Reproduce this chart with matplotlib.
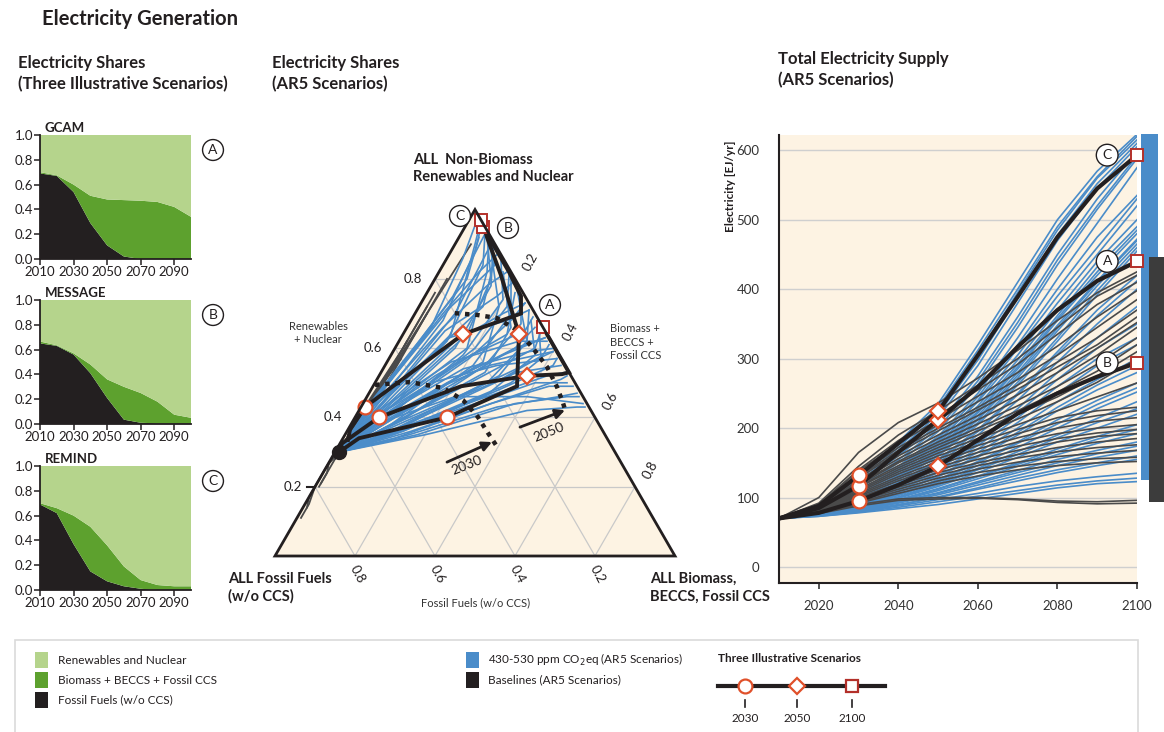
import numpy as np
import matplotlib
matplotlib.use('Agg')
import matplotlib.pyplot as plt
from matplotlib.transforms import Affine2D
from matplotlib.patches import Polygon, Rectangle
from matplotlib.lines import Line2D

plt.rcParams['font.family'] = ['Lato', 'DejaVu Sans']

# ---------------- data ----------------
years = [2010, 2020, 2030, 2040, 2050, 2060, 2070, 2080, 2090, 2100]

# illustrative scenarios: electricity shares
gcam_fossil = [0.69, 0.67, 0.54, 0.29, 0.11, 0.02, 0.00, 0.00, 0.00, 0.00]
gcam_bio = [0.01, 0.005, 0.06, 0.22, 0.37, 0.455, 0.47, 0.46, 0.42, 0.34]
message_fossil = [0.65, 0.63, 0.56, 0.41, 0.21, 0.035, 0.01, 0.005, 0.005, 0.005]
message_bio = [0.015, 0.005, 0.01, 0.07, 0.15, 0.265, 0.24, 0.175, 0.07, 0.045]
remind_fossil = [0.69, 0.62, 0.37, 0.15, 0.07, 0.03, 0.01, 0.00, 0.00, 0.00]
remind_bio = [0.01, 0.04, 0.23, 0.36, 0.29, 0.16, 0.07, 0.04, 0.03, 0.03]
model_names = ['GCAM', 'MESSAGE', 'REMIND']
model_letters = ['A', 'B', 'C']

# illustrative scenarios: total electricity supply [EJ/yr]
supply_A = [70, 85, 117, 165, 212, 259, 317, 370, 412, 440]
supply_B = [70, 78, 95, 118, 145, 183, 221, 250, 274, 294]
supply_C = [70, 88, 132, 178, 224, 305, 389, 475, 545, 593]

# AR5 430-530 ppm scenarios: total electricity supply
blue_supply = [
    [70, 90, 130, 180, 235, 320, 410, 500, 570, 623],
    [70, 89, 128, 176, 230, 312, 400, 490, 562, 620],
    [70, 88, 125, 172, 225, 305, 395, 485, 560, 615],
    [70, 87, 122, 168, 220, 298, 388, 478, 552, 610],
    [70, 86, 120, 165, 215, 290, 380, 470, 545, 605],
    [70, 85, 118, 160, 205, 275, 360, 450, 530, 598],
    [70, 84, 114, 154, 200, 268, 352, 442, 520, 592],
    [70, 84, 112, 150, 195, 262, 345, 435, 515, 588],
    [70, 83, 108, 145, 188, 250, 330, 415, 495, 575],
    [70, 82, 107, 143, 185, 245, 320, 400, 475, 535],
    [70, 82, 105, 140, 180, 240, 315, 390, 460, 530],
    [70, 82, 106, 142, 182, 238, 305, 380, 450, 520],
    [70, 81, 104, 138, 178, 232, 298, 370, 440, 500],
    [70, 81, 103, 136, 175, 228, 292, 362, 432, 490],
    [70, 80, 101, 133, 172, 224, 288, 358, 425, 485],
    [70, 80, 100, 132, 170, 222, 285, 355, 420, 480],
    [70, 80, 100, 130, 168, 218, 280, 348, 412, 472],
    [70, 80, 99, 129, 166, 214, 276, 344, 410, 470],
    [70, 80, 98, 128, 165, 212, 272, 340, 405, 465],
    [70, 79, 97, 126, 162, 208, 266, 330, 398, 460],
    [70, 79, 96, 125, 160, 205, 262, 325, 392, 455],
    [70, 79, 95, 122, 155, 198, 250, 310, 370, 420],
    [70, 78, 95, 121, 153, 195, 248, 306, 362, 412],
    [70, 78, 94, 120, 150, 190, 240, 295, 350, 400],
    [70, 78, 93, 117, 146, 182, 228, 280, 330, 375],
    [70, 78, 93, 116, 144, 178, 222, 270, 315, 350],
    [70, 78, 92, 114, 142, 175, 215, 260, 300, 330],
    [70, 77, 91, 112, 138, 170, 208, 250, 290, 320],
    [70, 77, 90, 110, 136, 165, 200, 238, 270, 300],
    [70, 77, 89, 108, 132, 160, 194, 230, 262, 290],
    [70, 77, 89, 107, 130, 158, 190, 225, 255, 280],
    [70, 77, 88, 105, 126, 152, 180, 212, 240, 265],
    [70, 76, 87, 104, 124, 150, 178, 206, 234, 258],
    [70, 76, 87, 103, 122, 146, 172, 200, 228, 252],
    [70, 76, 86, 101, 120, 142, 166, 190, 214, 238],
    [70, 76, 85, 100, 118, 140, 162, 186, 208, 228],
    [70, 76, 85, 99, 116, 136, 158, 180, 200, 220],
    [70, 75, 84, 97, 113, 131, 150, 170, 188, 205],
    [70, 75, 83, 96, 112, 130, 148, 166, 184, 198],
    [70, 75, 83, 95, 110, 127, 145, 162, 178, 192],
    [70, 75, 82, 94, 107, 123, 139, 155, 168, 180],
    [70, 74, 81, 93, 106, 121, 136, 150, 163, 174],
    [70, 74, 81, 92, 104, 118, 132, 146, 158, 168],
    [70, 74, 80, 90, 100, 112, 124, 136, 146, 155],
    [70, 74, 79, 89, 101, 114, 128, 140, 150, 160],
    [70, 74, 80, 88, 97, 106, 116, 124, 130, 135],
    [70, 73, 79, 86, 94, 102, 110, 118, 124, 128],
    [70, 73, 78, 84, 90, 98, 106, 114, 120, 123],
]

# AR5 baseline scenarios: total electricity supply
base_supply = [
    [70, 100, 165, 208, 236, 272, 312, 355, 395, 425],
    [70, 92, 145, 190, 225, 262, 300, 345, 390, 420],
    [70, 90, 140, 182, 218, 255, 292, 335, 378, 410],
    [70, 90, 138, 178, 212, 246, 280, 318, 360, 398],
    [70, 88, 132, 172, 205, 238, 270, 305, 345, 385],
    [70, 88, 130, 168, 200, 230, 262, 295, 330, 370],
    [70, 87, 128, 165, 196, 226, 256, 288, 320, 360],
    [70, 86, 125, 160, 190, 218, 248, 280, 315, 352],
    [70, 86, 122, 156, 185, 212, 240, 270, 305, 345],
    [70, 85, 120, 152, 180, 206, 232, 260, 292, 330],
    [70, 85, 118, 150, 176, 200, 225, 252, 282, 320],
    [70, 84, 116, 146, 172, 196, 220, 245, 275, 310],
    [70, 84, 115, 143, 168, 190, 213, 238, 266, 300],
    [70, 83, 112, 140, 164, 185, 205, 225, 245, 265],
    [70, 83, 110, 137, 160, 180, 198, 215, 225, 230],
    [70, 82, 108, 134, 156, 175, 192, 208, 218, 225],
    [70, 82, 106, 130, 152, 170, 186, 200, 210, 215],
    [70, 81, 104, 127, 148, 165, 180, 192, 200, 205],
    [70, 81, 102, 124, 144, 160, 174, 185, 193, 198],
    [70, 80, 100, 120, 140, 155, 168, 180, 188, 192],
    [70, 80, 98, 118, 136, 150, 162, 172, 180, 185],
    [70, 80, 96, 115, 132, 146, 157, 166, 172, 176],
    [70, 79, 95, 112, 128, 141, 151, 159, 164, 168],
    [70, 79, 93, 109, 124, 136, 145, 152, 156, 158],
    [70, 78, 92, 106, 120, 131, 140, 146, 150, 152],
    [70, 78, 90, 98, 100, 100, 98, 95, 94, 96],
    [70, 77, 88, 96, 98, 99, 97, 93, 91, 92],
]
range2100_blue = [125, 623]
range2100_base = [94, 446]

# ternary paths (biomass share, renewables share) at these years
tern_years = [2010, 2030, 2050, 2070, 2100]
tern_blue_bio = [
    [0.01, 0.04, 0.08, 0.06, 0.04], [0.01, 0.05, 0.12, 0.10, 0.06],
    [0.01, 0.06, 0.15, 0.15, 0.10], [0.01, 0.08, 0.18, 0.20, 0.14],
    [0.01, 0.10, 0.22, 0.24, 0.19], [0.01, 0.12, 0.25, 0.28, 0.24],
    [0.01, 0.07, 0.20, 0.30, 0.30], [0.01, 0.09, 0.26, 0.35, 0.34],
    [0.01, 0.11, 0.30, 0.38, 0.38], [0.01, 0.14, 0.32, 0.42, 0.42],
    [0.01, 0.16, 0.36, 0.46, 0.47], [0.01, 0.18, 0.38, 0.50, 0.53],
    [0.01, 0.20, 0.42, 0.54, 0.56], [0.01, 0.05, 0.10, 0.18, 0.20],
    [0.01, 0.06, 0.14, 0.22, 0.26], [0.01, 0.03, 0.07, 0.10, 0.12],
    [0.01, 0.13, 0.28, 0.32, 0.28], [0.01, 0.15, 0.30, 0.36, 0.30],
    [0.01, 0.10, 0.20, 0.28, 0.36], [0.01, 0.08, 0.16, 0.26, 0.40],
    [0.01, 0.04, 0.12, 0.05, 0.03], [0.01, 0.06, 0.18, 0.12, 0.08],
    [0.01, 0.12, 0.24, 0.40, 0.48], [0.01, 0.09, 0.22, 0.34, 0.44],
    [0.01, 0.03, 0.09, 0.14, 0.17], [0.01, 0.02, 0.05, 0.08, 0.05],
    [0.01, 0.03, 0.10, 0.16, 0.12], [0.01, 0.05, 0.14, 0.26, 0.22],
    [0.01, 0.07, 0.18, 0.30, 0.32], [0.01, 0.09, 0.24, 0.36, 0.40],
    [0.01, 0.11, 0.28, 0.42, 0.46], [0.01, 0.04, 0.16, 0.30, 0.37],
    [0.01, 0.06, 0.20, 0.34, 0.40], [0.01, 0.08, 0.24, 0.20, 0.10],
    [0.01, 0.10, 0.26, 0.26, 0.16], [0.01, 0.12, 0.30, 0.32, 0.22],
    [0.01, 0.14, 0.34, 0.38, 0.33], [0.01, 0.05, 0.12, 0.24, 0.28],
    [0.01, 0.03, 0.08, 0.13, 0.08], [0.01, 0.02, 0.06, 0.04, 0.02],
    [0.01, 0.07, 0.16, 0.14, 0.07], [0.01, 0.09, 0.20, 0.22, 0.18],
    [0.01, 0.13, 0.32, 0.44, 0.50], [0.01, 0.16, 0.34, 0.48, 0.52],
    [0.01, 0.06, 0.22, 0.40, 0.55], [0.01, 0.04, 0.14, 0.28, 0.42],
    [0.01, 0.08, 0.20, 0.25, 0.26], [0.01, 0.10, 0.24, 0.30, 0.36],
    [0.01, 0.02, 0.04, 0.07, 0.06], [0.01, 0.03, 0.06, 0.10, 0.09],
]
tern_blue_ren = [
    [0.30, 0.45, 0.68, 0.88, 0.95], [0.30, 0.42, 0.62, 0.84, 0.93],
    [0.30, 0.40, 0.60, 0.78, 0.89], [0.30, 0.40, 0.58, 0.74, 0.85],
    [0.30, 0.38, 0.55, 0.70, 0.80], [0.30, 0.39, 0.55, 0.67, 0.75],
    [0.30, 0.41, 0.58, 0.65, 0.69], [0.30, 0.37, 0.52, 0.60, 0.65],
    [0.30, 0.36, 0.50, 0.58, 0.61], [0.30, 0.36, 0.48, 0.55, 0.57],
    [0.30, 0.36, 0.46, 0.51, 0.52], [0.30, 0.35, 0.44, 0.46, 0.46],
    [0.30, 0.35, 0.42, 0.43, 0.43], [0.30, 0.44, 0.65, 0.75, 0.79],
    [0.30, 0.43, 0.62, 0.70, 0.73], [0.30, 0.47, 0.70, 0.82, 0.87],
    [0.30, 0.37, 0.50, 0.62, 0.71], [0.30, 0.37, 0.47, 0.58, 0.68],
    [0.30, 0.40, 0.52, 0.58, 0.63], [0.30, 0.38, 0.48, 0.55, 0.59],
    [0.30, 0.42, 0.64, 0.90, 0.97], [0.30, 0.41, 0.60, 0.82, 0.91],
    [0.30, 0.35, 0.42, 0.50, 0.50], [0.30, 0.36, 0.45, 0.53, 0.55],
    [0.30, 0.44, 0.66, 0.78, 0.82], [0.30, 0.46, 0.62, 0.80, 0.92],
    [0.30, 0.43, 0.58, 0.72, 0.86], [0.30, 0.40, 0.52, 0.64, 0.76],
    [0.30, 0.39, 0.50, 0.60, 0.66], [0.30, 0.37, 0.47, 0.56, 0.59],
    [0.30, 0.36, 0.45, 0.52, 0.53], [0.30, 0.41, 0.56, 0.62, 0.62],
    [0.30, 0.40, 0.54, 0.59, 0.60], [0.30, 0.39, 0.56, 0.72, 0.88],
    [0.30, 0.38, 0.53, 0.66, 0.82], [0.30, 0.37, 0.52, 0.62, 0.77],
    [0.30, 0.37, 0.50, 0.57, 0.66], [0.30, 0.45, 0.63, 0.68, 0.71],
    [0.30, 0.48, 0.72, 0.84, 0.92], [0.30, 0.44, 0.66, 0.86, 0.97],
    [0.30, 0.44, 0.64, 0.80, 0.92], [0.30, 0.42, 0.60, 0.72, 0.81],
    [0.30, 0.34, 0.44, 0.49, 0.49], [0.30, 0.35, 0.43, 0.46, 0.47],
    [0.30, 0.38, 0.46, 0.46, 0.44], [0.30, 0.39, 0.50, 0.55, 0.57],
    [0.30, 0.41, 0.57, 0.68, 0.73], [0.30, 0.40, 0.54, 0.60, 0.63],
    [0.30, 0.40, 0.55, 0.75, 0.93], [0.30, 0.38, 0.50, 0.70, 0.90],
]
tern_base_bio = [
    [0.01, 0.01, 0.02, 0.03, 0.03], [0.01, 0.02, 0.02, 0.03, 0.04],
    [0.01, 0.01, 0.01, 0.02, 0.02], [0.01, 0.01, 0.02, 0.02, 0.03],
    [0.01, 0.01, 0.01, 0.01, 0.02], [0.01, 0.01, 0.01, 0.01, 0.01],
    [0.01, 0.00, 0.00, 0.01, 0.01], [0.01, 0.01, 0.01, 0.02, 0.03],
    [0.01, 0.02, 0.03, 0.04, 0.05], [0.01, 0.01, 0.02, 0.02, 0.02],
    [0.01, 0.00, 0.00, 0.00, 0.01], [0.01, 0.01, 0.01, 0.02, 0.02],
    [0.01, 0.01, 0.01, 0.02, 0.02], [0.01, 0.01, 0.02, 0.02, 0.02],
    [0.01, 0.01, 0.01, 0.01, 0.01], [0.01, 0.00, 0.01, 0.01, 0.01],
    [0.01, 0.01, 0.01, 0.01, 0.02], [0.01, 0.02, 0.03, 0.03, 0.03],
]
tern_base_ren = [
    [0.30, 0.35, 0.45, 0.65, 0.80], [0.30, 0.36, 0.48, 0.70, 0.90],
    [0.30, 0.33, 0.40, 0.52, 0.62], [0.30, 0.34, 0.42, 0.50, 0.57],
    [0.30, 0.31, 0.34, 0.40, 0.46], [0.30, 0.28, 0.25, 0.22, 0.20],
    [0.30, 0.26, 0.20, 0.15, 0.11], [0.30, 0.29, 0.28, 0.30, 0.33],
    [0.30, 0.30, 0.31, 0.35, 0.38], [0.30, 0.32, 0.37, 0.45, 0.52],
    [0.30, 0.27, 0.22, 0.17, 0.14], [0.30, 0.33, 0.38, 0.58, 0.72],
    [0.30, 0.34, 0.44, 0.60, 0.76], [0.30, 0.32, 0.39, 0.48, 0.55],
    [0.30, 0.29, 0.30, 0.33, 0.36], [0.30, 0.27, 0.24, 0.22, 0.21],
    [0.30, 0.31, 0.35, 0.42, 0.50], [0.30, 0.35, 0.46, 0.62, 0.70],
]
# dotted frontier of the scenario cloud in 2030 and 2050 (biomass, renewables)
front2030_bio = [0.003, 0.086, 0.178, 0.245, 0.307, 0.355, 0.398]
front2030_ren = [0.494, 0.502, 0.485, 0.450, 0.401, 0.355, 0.315]
front2050_bio = [0.099, 0.157, 0.211, 0.279, 0.345, 0.407, 0.461, 0.499, 0.515]
front2050_ren = [0.701, 0.696, 0.687, 0.652, 0.600, 0.546, 0.488, 0.442, 0.421]
tern_ticks = [0.2, 0.4, 0.6, 0.8]

# ---------------- style ----------------
C_REN = '#B5D48C'
C_BIO = '#5DA12E'
C_FOS = '#231F20'
C_BLUE = '#4A8CC9'
C_BASE = '#4A4A4A'
C_BG = '#FDF3E3'
C_MK = '#E0502A'
C_SQ = '#B3302A'
C_TXT = '#231F20'

W, H = 1164, 732
fig = plt.figure(figsize=(W / 100, H / 100), dpi=100)


def px(x, y):
    return (x / W, 1 - y / H)


def box(l, t, r, b):
    return [l / W, 1 - b / H, (r - l) / W, (b - t) / H]


def circ_label(x, y, s, size=10):
    fig.text(*px(x, y), s, ha='center', va='center', fontsize=size, color=C_TXT,
             bbox=dict(boxstyle='circle,pad=0.32', fc='white', ec=C_TXT, lw=1.0))


# headers
fig.text(*px(42, 9), 'Electricity Generation', fontsize=14.5, fontweight='bold',
         color=C_TXT, va='top')
for x0, s in [(18, 'Electricity Shares\n(Three Illustrative Scenarios)'),
              (272, 'Electricity Shares\n(AR5 Scenarios)'),
              (778, 'Total Electricity Supply\n(AR5 Scenarios)')]:
    fig.text(*px(x0, 55 if x0 < 700 else 51), s, fontsize=12, fontweight='bold',
             color=C_TXT, va='top', linespacing=1.35)

# ---------------- left small panels ----------------
fossils = [gcam_fossil, message_fossil, remind_fossil]
bios = [gcam_bio, message_bio, remind_bio]
panel_tb = [(135, 259), (300, 424), (466, 590)]
for i in range(3):
    t, b = panel_tb[i]
    ax = fig.add_axes(box(40, t, 191, b))
    f = np.array(fossils[i])
    bb = np.array(bios[i])
    r = 1 - f - bb
    ax.stackplot(years, f, bb, r, colors=[C_FOS, C_BIO, C_REN], lw=0)
    ax.set_xlim(2010, 2100)
    ax.set_ylim(0, 1)
    ax.set_xticks([2010, 2030, 2050, 2070, 2090])
    ax.set_yticks([0, 0.2, 0.4, 0.6, 0.8, 1.0])
    ax.set_yticklabels(['0.0', '0.2', '0.4', '0.6', '0.8', '1.0'])
    for s in ['top', 'right']:
        ax.spines[s].set_visible(False)
    for s in ['left', 'bottom']:
        ax.spines[s].set_linewidth(1.3)
        ax.spines[s].set_color(C_TXT)
    ax.tick_params(length=4, width=1.1, labelsize=9.5, pad=1, colors=C_TXT)
    ax.set_title(model_names[i], loc='left', fontsize=9.5, fontweight='bold',
                 color=C_TXT, pad=2, x=0.03)
    circ_label(213, (t + 15), model_letters[i], 10)

# ---------------- ternary ----------------
axT = fig.add_axes(box(225, 170, 725, 620))
axT.set_xlim(-0.125, 1.125)
axT.set_ylim(-0.16, 0.965)
axT.axis('off')
tern = Affine2D().from_values(1, 0, 0.5, np.sqrt(3) / 2, 0, 0) + axT.transData

axT.add_patch(Polygon([[0, 0], [1, 0], [0, 1]], closed=True, fc=C_BG, ec='none',
                      transform=tern, zorder=0))
for v in tern_ticks:
    kw = dict(color='#C9C9C9', lw=0.9, transform=tern, zorder=1)
    axT.plot([0, 1 - v], [v, v], **kw)
    axT.plot([v, v], [0, 1 - v], **kw)
    axT.plot([1 - v, 0], [0, 1 - v], **kw)

for bb, rr in zip(tern_base_bio, tern_base_ren):
    axT.plot(bb, rr, color=C_BASE, lw=1.3, transform=tern, zorder=2)
for bb, rr in zip(tern_blue_bio, tern_blue_ren):
    axT.plot(bb, rr, color=C_BLUE, lw=1.2, transform=tern, zorder=3)

axT.plot(front2030_bio, front2030_ren, color=C_FOS, lw=3.2, ls=(0, (1, 1.3)),
         transform=tern, zorder=4)
axT.plot(front2050_bio, front2050_ren, color=C_FOS, lw=3.2, ls=(0, (1, 1.3)),
         transform=tern, zorder=4)

for i in range(3):
    f = np.array(fossils[i])
    bb = np.array(bios[i])
    rr = 1 - f - bb
    axT.plot(bb, rr, color=C_FOS, lw=2.8, transform=tern, zorder=5,
             solid_joinstyle='miter')
    axT.plot(bb[2], rr[2], 'o', ms=10, mfc='white', mec=C_MK, mew=1.6,
             transform=tern, zorder=7)
    axT.plot(bb[4], rr[4], 'D', ms=8.5, mfc='white', mec=C_MK, mew=1.6,
             transform=tern, zorder=7)
    axT.plot(bb[9], rr[9], 's', ms=8, mfc='white', mec=C_SQ, mew=1.4,
             transform=tern, zorder=7)
axT.plot(gcam_bio[0], 1 - gcam_fossil[0] - gcam_bio[0], 'o', ms=10, color=C_FOS,
         transform=tern, zorder=6)

axT.add_patch(Polygon([[0, 0], [1, 0], [0, 1]], closed=True, fc='none', ec=C_FOS,
                      lw=2.0, transform=tern, zorder=8))

# tick labels
for v in tern_ticks:
    axT.annotate(f'{v:.1f}', (0, v), xycoords=tern, xytext=(-16, 0),
                 textcoords='offset points', ha='center', va='center',
                 fontsize=9.5, color=C_TXT)
    axT.annotate(f'{v:.1f}', (1 - v, 0), xycoords=tern, xytext=(2, -13),
                 textcoords='offset points', ha='center', va='center',
                 fontsize=9.5, color=C_TXT, rotation=-62)
    axT.annotate(f'{v:.1f}', (v, 1 - v), xycoords=tern, xytext=(11, 12),
                 textcoords='offset points', ha='center', va='center',
                 fontsize=9.5, color=C_TXT, rotation=62)
axT.plot([-0.02, 0], [0.2, 0.2], color=C_FOS, lw=1.5, transform=tern,
         clip_on=False, zorder=8)

# arrows
axT.annotate('', xy=(0.378, 0.329), xytext=(0.2945, 0.271), xycoords=tern,
             arrowprops=dict(arrowstyle='-|>', color=C_FOS, lw=2.0,
                             mutation_scale=14, shrinkA=0, shrinkB=0), zorder=9)
axT.annotate('', xy=(0.5145, 0.421), xytext=(0.4265, 0.372), xycoords=tern,
             arrowprops=dict(arrowstyle='-|>', color=C_FOS, lw=2.0,
                             mutation_scale=14, shrinkA=0, shrinkB=0), zorder=9)
fig.text(*px(467, 465), '2030', ha='center', va='center', fontsize=10,
         rotation=22, color=C_TXT)
fig.text(*px(549, 432), '2050', ha='center', va='center', fontsize=10,
         rotation=22, color=C_TXT)

circ_label(460, 216, 'C', 10)
circ_label(508, 228, 'B', 10)
circ_label(550, 305, 'A', 10)

fig.text(*px(413, 153), 'ALL  Non-Biomass\nRenewables and Nuclear', fontsize=10.5,
         fontweight='bold', va='top', color=C_TXT, linespacing=1.3)
fig.text(*px(318, 333), 'Renewables\n+ Nuclear', fontsize=8, ha='center',
         va='center', color='#333333', linespacing=1.3)
fig.text(*px(610, 342), 'Biomass +\nBECCS +\nFossil CCS', fontsize=8, ha='left',
         va='center', color='#333333', linespacing=1.3)
fig.text(*px(476, 603), 'Fossil Fuels (w/o CCS)', fontsize=8, ha='center',
         va='center', color='#333333')
fig.text(*px(228, 572), 'ALL Fossil Fuels\n(w/o CCS)', fontsize=10.5,
         fontweight='bold', va='top', color=C_TXT, linespacing=1.3)
fig.text(*px(650, 572), 'ALL Biomass,\nBECCS, Fossil CCS', fontsize=10.5,
         fontweight='bold', va='top', color=C_TXT, linespacing=1.3)

# ---------------- right panel ----------------
axR = fig.add_axes(box(779, 135, 1137, 583))
axR.set_facecolor(C_BG)
axR.set_xlim(2010, 2100)
axR.set_ylim(-23, 622)
axR.set_yticks([0, 100, 200, 300, 400, 500, 600])
axR.set_xticks([2020, 2040, 2060, 2080, 2100])
axR.grid(axis='y', color='#CFCFCF', lw=1.0)
axR.set_axisbelow(True)
for s in ['top', 'right']:
    axR.spines[s].set_visible(False)
for s in ['left', 'bottom']:
    axR.spines[s].set_linewidth(1.5)
    axR.spines[s].set_color(C_TXT)
axR.tick_params(axis='y', length=0, pad=14, labelsize=9.5, colors='#333333')
axR.tick_params(axis='x', length=4, width=1.2, pad=8, labelsize=9.5,
                colors='#333333')

for row in blue_supply:
    axR.plot(years, row, color=C_BLUE, lw=1.2, zorder=2)
for row in base_supply:
    axR.plot(years, row, color=C_BASE, lw=1.2, zorder=3)
for sup in [supply_A, supply_B, supply_C]:
    axR.plot(years, sup, color=C_FOS, lw=3.0, zorder=5)
    axR.plot(years[2], sup[2], 'o', ms=10, mfc='white', mec=C_MK, mew=1.6, zorder=7)
    axR.plot(years[4], sup[4], 'D', ms=8.5, mfc='white', mec=C_MK, mew=1.6, zorder=7)
    axR.plot(years[9], sup[9], 's', ms=8.5, mfc='white', mec=C_SQ, mew=1.4,
             zorder=7, clip_on=False)
for sup, letter in [(supply_A, 'A'), (supply_B, 'B'), (supply_C, 'C')]:
    axR.text(2092.5, sup[-1], letter, ha='center', va='center', fontsize=10,
             color=C_TXT, zorder=8,
             bbox=dict(boxstyle='circle,pad=0.35', fc='white', ec=C_TXT, lw=1.0))

axR.bar(2103.1, range2100_blue[1] - range2100_blue[0], bottom=range2100_blue[0],
        width=4.3, color=C_BLUE, clip_on=False, zorder=1)
axR.bar(2105.0, range2100_base[1] - range2100_base[0], bottom=range2100_base[0],
        width=3.8, color='#3C3C3C', clip_on=False, zorder=2)

fig.text(*px(731, 186), 'Electricity [EJ/yr]', rotation=90, ha='center',
         va='center', fontsize=8.5, fontweight='bold', color=C_TXT)

# ---------------- legend ----------------
fig.add_artist(Rectangle(px(15, 735), (1138 - 15) / W, (735 - 640) / H,
                         transform=fig.transFigure, fc='white', ec='#DADADA',
                         lw=1.2))
for y, c, s in [(660, C_REN, 'Renewables and Nuclear'),
                (680, C_BIO, 'Biomass + BECCS + Fossil CCS'),
                (700, C_FOS, 'Fossil Fuels (w/o CCS)')]:
    fig.add_artist(Rectangle(px(35, y + 8), 13 / W, 16 / H,
                             transform=fig.transFigure, fc=c, ec='none'))
    fig.text(*px(58, y), s, fontsize=8.5, va='center', color=C_TXT)
for y, c, s in [(660, C_BLUE, '430-530 ppm CO$_2$eq (AR5 Scenarios)'),
                (680, C_FOS, 'Baselines (AR5 Scenarios)')]:
    fig.add_artist(Rectangle(px(466, y + 8), 13 / W, 16 / H,
                             transform=fig.transFigure, fc=c, ec='none'))
    fig.text(*px(488, y), s, fontsize=8.5, va='center', color=C_TXT)
fig.text(*px(718, 658), 'Three Illustrative Scenarios', fontsize=8.5,
         fontweight='bold', va='center', color=C_TXT)
fig.add_artist(Line2D([718 / W, 885 / W], [1 - 686 / H, 1 - 686 / H],
                      transform=fig.transFigure, color=C_FOS, lw=3.0))
for x, m, ec, ms, lab in [(745, 'o', C_MK, 10, '2030'), (797, 'D', C_MK, 8.5, '2050'),
                          (852, 's', C_SQ, 8.5, '2100')]:
    fig.add_artist(Line2D([x / W], [1 - 686 / H], transform=fig.transFigure,
                          marker=m, ms=ms, mfc='white', mec=ec, mew=1.6, ls='none'))
    fig.add_artist(Line2D([x / W, x / W], [1 - 700 / H, 1 - 707 / H],
                          transform=fig.transFigure, color=C_FOS, lw=1.2))
    fig.text(*px(x, 719), lab, fontsize=8.5, ha='center', va='center', color=C_TXT)

fig.savefig('out.png', dpi=100)
